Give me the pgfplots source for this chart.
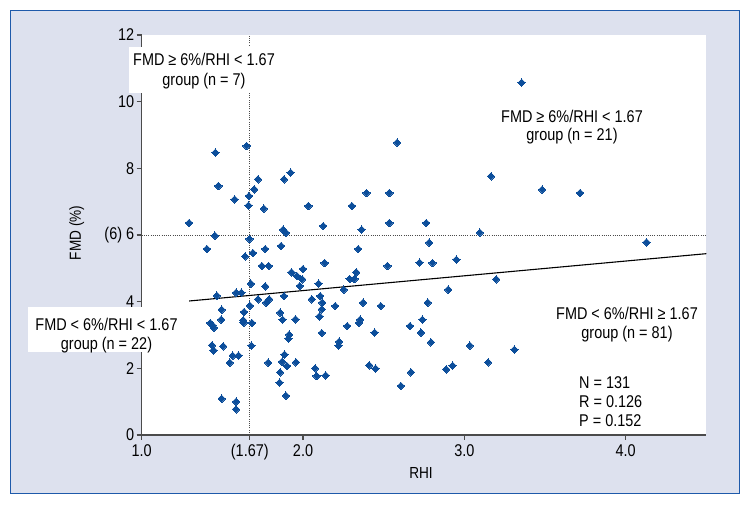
\documentclass[border=0pt]{standalone}
\usepackage{pgfplots}
\pgfplotsset{compat=1.18}
\usepackage{fontspec}
\setmainfont{Liberation Sans}[FakeStretch=0.85]
\definecolor{bglav}{RGB}{221,225,238}
\definecolor{frameblue}{RGB}{30,90,170}
\definecolor{mkblue}{RGB}{12,78,155}
\definecolor{axgray}{RGB}{75,75,75}
\newcommand\f{\fontsize{17}{20}\selectfont}
\newcommand\fl{\fontsize{16}{19}\selectfont}
\begin{document}
\begin{tikzpicture}
\useasboundingbox (0pt,0pt) rectangle (750pt,505pt);
\fill[white] (0pt,0pt) rectangle (750pt,505pt);
\filldraw[fill=bglav, draw=frameblue, line width=1.5pt] (10.7pt,11.7pt) rectangle (739.3pt,494.3pt);
\fill[white] (141.7pt,70pt) rectangle (706.4pt,470pt);
\begin{axis}[
  at={(141.7pt,70pt)}, anchor=south west,
  scale only axis, width=564.7pt, height=400pt,
  xmin=1, xmax=4.5, ymin=0, ymax=12,
  axis x line*=bottom, axis y line*=left,
  axis line style={axgray, line width=1.1pt},
  tick align=outside, major tick length=5pt,
  tick style={axgray, line width=1.1pt},
  xtick={1,1.67,2,3,4}, xticklabels={1.0,(1.67),2.0,3.0,4.0},
  ytick={0,2,4,6,8,10,12}, yticklabels={0,2,4,(6) 6,8,10,12},
  xticklabel style={font=\f, yshift=-1pt},
  yticklabel style={font=\f, xshift=1pt},
  xlabel={RHI}, ylabel={FMD (\%)},
  xlabel style={font=\fl, at={(axis description cs:0.4946,-0.094)}, anchor=center},
  ylabel style={font=\fl, at={(axis description cs:-0.115,0.505)}, anchor=center},
  clip=false,
]
\addplot[axgray, line width=0.9pt, dash pattern=on 1pt off 1.2pt] coordinates {(1.67,0) (1.67,12)};
\addplot[axgray, line width=0.9pt, dash pattern=on 1pt off 1.2pt] coordinates {(1,6) (4.5,6)};
\addplot[black, line width=1.1pt] coordinates {(1.294,4.02) (4.5,5.44)};
\addplot[only marks, mark=square*, mark size=2.6pt, mark options={rotate=45, fill=mkblue, draw=mkblue, line width=0pt}] table {
x y
1.294 6.36
1.457 8.47
1.475 7.47
1.454 5.98
1.404 5.58
1.466 4.18
1.425 3.36
1.439 3.29
1.448 3.22
1.493 3.46
1.496 3.76
1.436 2.69
1.445 2.54
1.505 2.66
1.546 2.17
1.564 2.38
1.600 2.38
1.496 1.09
1.585 1.00
1.585 0.77
1.576 7.07
1.650 8.67
1.665 7.17
1.662 6.88
1.698 7.37
1.721 7.67
1.668 5.88
1.641 5.36
1.689 5.46
1.585 4.27
1.618 4.27
1.677 4.54
1.671 3.88
1.635 3.69
1.629 3.44
1.632 3.37
1.683 3.36
1.680 2.68
1.721 4.07
1.757 6.79
1.766 5.58
1.745 5.07
1.787 5.07
1.766 4.46
1.772 3.97
1.790 4.07
1.784 2.17
1.882 7.67
1.923 7.87
1.864 5.67
1.876 6.16
1.894 6.07
1.858 3.67
1.873 3.46
1.882 4.17
1.929 4.88
1.962 4.77
2.000 4.98
1.995 4.67
1.980 4.47
1.953 3.47
1.914 3.01
1.909 2.89
1.885 2.41
1.870 2.20
1.900 2.07
1.956 2.18
1.858 1.88
1.855 1.57
1.894 1.18
2.033 6.87
2.125 6.27
2.134 5.16
2.096 4.54
2.054 4.07
2.107 4.17
2.119 3.97
2.116 3.77
2.102 3.56
2.200 3.87
2.116 3.06
2.075 2.00
2.084 1.77
2.140 1.79
2.223 2.80
2.220 2.68
2.274 3.27
2.253 4.36
2.303 6.87
2.393 7.26
2.363 6.16
2.342 5.58
2.330 4.88
2.289 4.68
2.318 4.68
2.372 3.97
2.354 3.46
2.345 3.36
2.443 3.07
2.482 3.87
2.410 2.09
2.449 1.99
2.535 7.26
2.535 6.36
2.523 5.07
2.583 8.77
2.606 1.47
2.669 1.88
2.663 3.27
2.722 5.17
2.764 6.36
2.782 5.77
2.802 5.16
2.773 3.97
2.740 3.46
2.731 3.07
2.793 2.78
2.900 4.36
2.951 5.26
2.888 1.97
2.927 2.08
3.034 2.68
3.096 6.07
3.165 7.76
3.197 4.67
3.147 2.18
3.310 2.56
3.355 10.57
3.482 7.36
3.717 7.26
4.129 5.78
};
\end{axis}
% white boxes behind group labels
\fill[white] (129pt,412pt) rectangle (281pt,458pt);
\fill[white] (28pt,153pt) rectangle (184pt,198pt);
\node[font=\f, anchor=base] at (204pt,439pt) {FMD ≥ 6\%/RHI < 1.67};
\node[font=\f, anchor=base] at (204pt,419.5pt) {group (n = 7)};
\node[font=\f, anchor=base] at (572pt,382.3pt) {FMD ≥ 6\%/RHI < 1.67};
\node[font=\f, anchor=base] at (572pt,364pt) {group (n = 21)};
\node[font=\f, anchor=base] at (627pt,185.7pt) {FMD < 6\%/RHI ≥ 1.67};
\node[font=\f, anchor=base] at (627pt,166.3pt) {group (n = 81)};
\node[font=\f, anchor=base west, inner sep=0pt] at (579pt,116.7pt) {N = 131};
\node[font=\f, anchor=base west, inner sep=0pt] at (579pt,97.7pt) {R = 0.126};
\node[font=\f, anchor=base west, inner sep=0pt] at (579pt,78.3pt) {P = 0.152};
\node[font=\f, anchor=base] at (106.5pt,174pt) {FMD < 6\%/RHI < 1.67};
\node[font=\f, anchor=base] at (106.5pt,155.5pt) {group (n = 22)};
\end{tikzpicture}
\end{document}
